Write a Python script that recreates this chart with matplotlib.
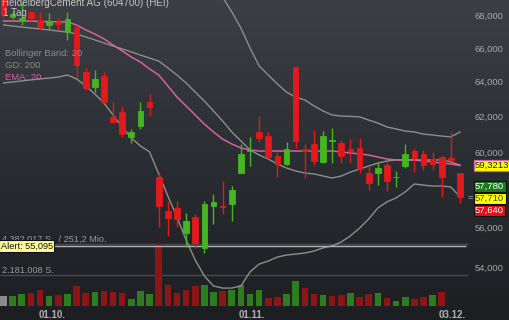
import numpy as np
import matplotlib
matplotlib.use("Agg")
import matplotlib.pyplot as plt
import matplotlib.transforms as mtransforms
from matplotlib.colors import LinearSegmentedColormap

plt.rcParams['font.family'] = ['Liberation Sans', 'DejaVu Sans']

# ---------------- data ----------------
title = "HeidelbergCement AG (604700) (HEI)"
interval_label = "1 Tag"
indicator_labels = ["Bollinger Band: 20", "GD: 200", "EMA: 20"]

opens = [69.10, 68.00, 67.72, 68.29, 67.79, 67.48, 67.66, 67.04, 67.35, 64.63, 63.75, 64.39, 62.02,
         62.30, 60.89, 61.50, 62.87, 58.70, 56.89, 57.05, 55.76, 56.58, 55.00, 57.16, 57.14, 57.26,
         58.91, 60.10, 61.17, 60.94, 59.83, 59.40, 64.93, 60.20, 60.50, 59.51, 60.65, 60.55, 60.20,
         60.28, 58.91, 58.91, 59.34, 58.68, 59.29, 60.11, 59.95, 59.67, 59.78, 59.70, 58.91]
highs = [69.30, 68.35, 68.85, 68.35, 68.29, 68.22, 67.91, 68.29, 67.48, 64.87, 64.75, 64.63, 62.87,
         62.65, 61.34, 62.87, 63.34, 58.96, 57.42, 57.42, 56.79, 56.74, 57.42, 57.79, 58.48, 58.21,
         60.50, 60.89, 62.07, 61.17, 60.06, 60.61, 64.99, 60.50, 61.28, 61.22, 61.39, 60.72, 60.77,
         60.83, 59.29, 59.51, 59.51, 59.02, 60.50, 60.28, 60.17, 60.06, 59.83, 61.17, 58.91]
lows = [67.97, 67.85, 67.48, 67.72, 67.17, 67.17, 67.17, 66.56, 64.27, 63.57, 63.45, 62.82, 61.67,
        60.89, 60.55, 61.34, 62.07, 56.06, 55.61, 56.06, 55.05, 55.00, 54.74, 56.22, 56.74, 56.37,
        58.91, 59.29, 60.61, 59.67, 58.70, 59.34, 60.28, 58.64, 59.34, 59.45, 59.45, 59.45, 59.45,
        58.91, 58.00, 58.26, 57.95, 58.16, 59.18, 58.96, 59.07, 59.07, 57.63, 59.56, 57.32]
closes = [68.10, 68.15, 67.91, 67.91, 67.35, 67.72, 67.54, 67.85, 65.04, 63.69, 64.22, 62.87, 61.73,
          61.05, 61.17, 62.36, 62.59, 57.16, 56.53, 56.48, 56.37, 55.25, 57.26, 57.37, 57.09, 58.00,
          59.95, 60.17, 60.83, 59.78, 59.40, 60.22, 60.67, 60.12, 59.56, 60.94, 60.72, 59.83, 60.12,
          59.12, 58.37, 59.18, 58.48, 58.72, 59.95, 59.73, 59.34, 59.40, 58.70, 59.62, 57.64]

# volume in million shares, direction: 1 up, -1 down, 0 neutral
volume_mio = [0.67, 0.67, 0.84, 0.91, 1.08, 0.67, 0.72, 0.84, 1.39, 0.86, 0.96, 1.06, 0.99, 0.91,
              0.43, 1.06, 0.79, 4.382017, 1.44, 0.86, 1.08, 1.39, 1.44, 1.00, 1.03, 1.10, 1.44, 0.79,
              1.08, 0.55, 0.60, 0.84, 1.75, 1.25, 0.79, 0.72, 0.65, 0.72, 0.88, 0.60, 0.84, 0.88,
              0.53, 0.31, 0.60, 0.48, 0.60, 0.72, 0.96, 0.0, 0.0]
volume_dir = [0, 1, 1, -1, -1, 1, -1, 1, -1, -1, 1, -1, -1, -1, 1, 1, 1, -1, -1, -1, -1, -1, 1, 1,
              -1, 1, 1, 1, 1, -1, -1, 1, 1, -1, -1, 1, -1, -1, 1, -1, -1, 1, -1, 1, 1, -1, -1, 1,
              -1, 0, 0]

bb_mid = [67.48, 67.41, 67.35, 67.29, 67.23, 67.17, 67.10, 67.04, 66.92, 66.74, 66.56, 66.37, 66.19,
          66.01, 65.83, 65.64, 65.46, 65.28, 64.87, 64.45, 63.98, 63.45, 62.93, 62.36, 61.79, 61.17,
          60.67, 60.17, 59.89, 59.67, 59.40, 59.18, 59.02, 58.91, 58.86, 58.75, 58.64, 58.75, 58.96,
          59.12, 59.29, 59.45, 59.56, 59.62, 59.62, 59.62, 59.62, 59.62, 59.62, 59.51, 59.34]
bb_lower = [63.98, 64.04, 64.10, 64.16, 64.22, 64.27, 64.33, 64.45, 64.22, 63.81, 63.34, 62.82, 62.13,
            61.45, 60.83, 60.39, 60.06, 58.86, 57.68, 56.58, 55.40, 54.39, 53.60, 53.11, 53.01, 53.01,
            53.11, 53.80, 54.19, 54.34, 54.54, 54.64, 54.69, 54.74, 54.84, 55.00, 55.10, 55.30, 55.61,
            56.01, 56.48, 57.05, 57.37, 57.58, 57.90, 58.32, 58.26, 58.21, 58.21, 58.16, 57.63]
bb_upper = [70.98, 70.78, 70.60, 70.42, 70.24, 70.07, 69.87, 69.63, 69.62, 69.67, 69.78, 69.92, 70.25,
            70.57, 70.83, 70.89, 70.86, 71.70, 72.06, 72.32, 72.56, 72.51, 72.26, 71.61, 69.23, 68.29,
            67.29, 66.07, 64.99, 64.45, 63.92, 63.45, 63.16, 62.99, 62.65, 62.36, 62.13, 62.07, 62.05,
            62.02, 61.84, 61.67, 61.45, 61.34, 61.22, 61.17, 61.05, 61.00, 60.94, 60.89, 61.17]
ema20 = [67.72, 67.72, 67.72, 67.72, 67.69, 67.69, 67.66, 67.66, 67.48, 67.17, 66.92, 66.62, 66.25,
         65.89, 65.52, 65.22, 64.81, 64.45, 63.81, 63.16, 62.65, 62.13, 61.61, 61.17, 60.77, 60.50,
         60.28, 60.17, 60.11, 60.11, 60.11, 60.11, 60.11, 60.11, 60.11, 60.11, 60.11, 60.06, 60.00,
         59.95, 59.89, 59.78, 59.67, 59.62, 59.62, 59.62, 59.56, 59.51, 59.45, 59.40, 59.3213]

date_labels = ["01.10.", "01.11.", "03.12."]
date_positions = [5.3, 27.2, 49.2]
price_ticks = [54.0, 56.0, 60.0, 62.0, 64.0, 66.0, 68.0]
vol_levels_mio = [4.382017, 2.181008]
vol_level_labels = ["4.382.017 S.  / 251,2 Mio.", "2.181.008 S."]
alert_price = 55.095
quote_values = [57.780, 57.710, 57.640]   # ask / last / bid

# ---------------- styling ----------------
RED, GREEN = '#e3191b', '#45b520'
VRED, VGREEN, VGRAY = '#8c1616', '#2e7c1e', '#8a8a8a'
BAND, PINK = '#8e8e8e', '#d8619f'
TXT = '#a9a9a9'

W, H = 510, 320
fig = plt.figure(figsize=(W / 100, H / 100), dpi=100)

bg = fig.add_axes([0, 0, 1, 1])
grad = np.linspace(0, 1, 256).reshape(-1, 1)
cmap = LinearSegmentedColormap.from_list('bg', ['#3c3f43', '#2a2d31', '#1c1e22'])
bg.imshow(grad, aspect='auto', cmap=cmap, extent=[0, 1, 0, 1])
bg.axis('off')

n = len(closes)
x = np.arange(n)
X0, DX = 3.5, 9.13
xlim = (-X0 / DX, (W - X0) / DX)

axv = fig.add_axes([0, 0, 1, 1], facecolor='none')
axv.set_xlim(xlim)
VBASE, VSCALE = 305.5, 14.0
axv.set_ylim(-(H - VBASE) / VSCALE, VBASE / VSCALE)

ax = axv.twinx()
ax.set_yscale('log')
ax.set_ylim(51.48, 69.04)
ax.set_xlim(xlim)

for a in (axv, ax):
    for s in a.spines.values():
        s.set_visible(False)
    a.set_xticks([])
    a.set_yticks([])
    a.minorticks_off()
    a.tick_params(which='both', left=False, right=False, bottom=False, top=False,
                  labelleft=False, labelright=False, labelbottom=False)

# volume
vcol = [VGREEN if d > 0 else (VRED if d < 0 else VGRAY) for d in volume_dir]
axv.bar(x, volume_mio, width=0.72, color=vcol, zorder=2)
axv.hlines(vol_levels_mio, xlim[0], n - 0.1, color='#474a4f', lw=1.0, zorder=1)
for lv, lab in zip(vol_levels_mio, vol_level_labels):
    axv.text(0.004, lv, lab, transform=mtransforms.blended_transform_factory(axv.transAxes, axv.transData),
             ha='left', va='bottom', fontsize=6.6, color='#9a9a9a', zorder=3)

# price
o, h_, l_, c = map(np.array, (opens, highs, lows, closes))
ccol = np.where(c >= o, GREEN, RED)
ax.plot(x, bb_upper, color=BAND, lw=1.0, zorder=2)
ax.plot(x, bb_mid, color=BAND, lw=1.0, zorder=2)
ax.plot(x, bb_lower, color=BAND, lw=1.0, zorder=2)
ax.plot(x, ema20, color=PINK, lw=1.1, zorder=2)
ax.vlines(x, l_, h_, colors=ccol, lw=1.0, zorder=3)
lo, hi = np.minimum(o, c), np.maximum(o, c)
ax.bar(x, hi - lo, bottom=lo, width=0.62, color=ccol, edgecolor=ccol, linewidth=0.6, zorder=4)

ax.hlines(alert_price, xlim[0], n - 0.3, color='#b4b4b4', lw=1.0, zorder=2)
ax.text(0.001, alert_price, "Alert: 55,095",
        transform=mtransforms.blended_transform_factory(ax.transAxes, ax.transData),
        ha='left', va='center', fontsize=6.6, color='#111111', zorder=6,
        bbox=dict(boxstyle='square,pad=0.15', fc='#ffff9a', ec='#111111', lw=0.8))

# right price scale
ty = mtransforms.blended_transform_factory(ax.transAxes, ax.transData)
for p in price_ticks:
    ax.text(475 / W, p, f"{p:.3f}".replace('.', ','), transform=ty, ha='left', va='center',
            fontsize=6.8, color=TXT, zorder=1)

ax.text(475 / W, ema20[-1], f"{ema20[-1]:.4f}".replace('.', ','), transform=ty, ha='left',
        va='center', fontsize=6.8, color='#222222', zorder=7,
        bbox=dict(boxstyle='square,pad=0.15', fc='#ffff00', ec=PINK, lw=0.9))

qstyles = [('#1d7a1d', 'white', -12), ('#ffff00', '#4a4a00', 0), ('#e0101a', 'white', 12)]
for qv, (fc, tc, dy) in zip(quote_values, qstyles):
    tr = mtransforms.offset_copy(ty, fig=fig, x=0, y=-(dy + 3), units='dots')
    ax.text(475 / W, quote_values[1], f"{qv:.3f}".replace('.', ','), transform=tr, ha='left',
            va='center', fontsize=6.8, color=tc, zorder=7,
            bbox=dict(boxstyle='square,pad=0.15', fc=fc, ec='#111111', lw=0.8))
ax.text(470 / W, quote_values[1], "=", transform=mtransforms.offset_copy(ty, fig=fig, y=-2, units='dots'),
        ha='center', va='center', fontsize=6.5, color=TXT, zorder=7)

# date labels
tx = mtransforms.blended_transform_factory(axv.transData, axv.transAxes)
for pos, lab in zip(date_positions, date_labels):
    axv.text(pos, 1 - 318 / H, lab, transform=tx, ha='center', va='baseline',
             fontsize=7, fontweight='bold', color='#b2b2b2')

# header texts
fig.text(2 / W, 1 - 6.5 / H, title, ha='left', va='baseline', fontsize=7.1, color='#c4c4c4')
fig.text(3 / W, 1 - 16.5 / H, interval_label, ha='left', va='baseline', fontsize=7.1, color='#c4c4c4')
for lab, yy, col in zip(indicator_labels, [55.5, 67.5, 80], ['#8a8a8a', '#8a8a8a', PINK]):
    fig.text(5 / W, 1 - yy / H, lab, ha='left', va='baseline', fontsize=6.8, color=col)

fig.savefig("out.png", dpi=100)
